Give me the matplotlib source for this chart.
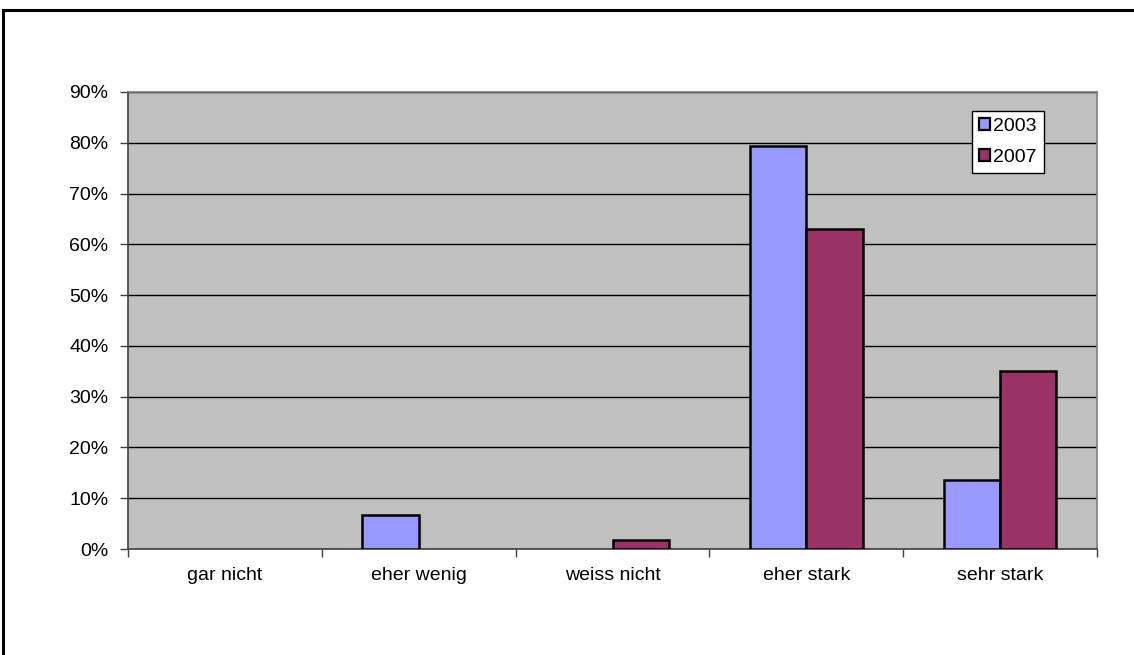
import numpy as np
import matplotlib.pyplot as plt
from matplotlib.patches import Rectangle, Patch
from matplotlib.ticker import FixedLocator, PercentFormatter

plt.rcParams['font.family'] = ['Liberation Sans', 'DejaVu Sans']

categories = ['gar nicht', 'eher wenig', 'weiss nicht', 'eher stark', 'sehr stark']
years = ['2003', '2007']
share_2003 = [0.0, 6.7, 0.0, 79.3, 13.6]
share_2007 = [0.0, 0.0, 1.8, 63.0, 35.0]
colors = ['#9999FF', '#993366']

W, H = 1134, 655
fig = plt.figure(figsize=(W / 100, H / 100), dpi=100)
fig.patch.set_facecolor('white')

# outer chart frame (runs off the right and bottom edge)
fig.patches.append(Rectangle((3 / W, -0.1), 1.2, 1 - 10 / H + 0.1,
                             transform=fig.transFigure, fill=False,
                             edgecolor='black', linewidth=2.2, zorder=0))

ax = fig.add_axes([128 / W, 1 - 549 / H, (1097 - 128) / W, (549 - 92) / H])
ax.set_facecolor('#C0C0C0')

x = np.arange(len(categories))
width = 0.29
for offset, vals, col in [(-width / 2, share_2003, colors[0]),
                          (width / 2, share_2007, colors[1])]:
    bars = ax.bar(x + offset, vals, width, color=col, edgecolor='black',
                  linewidth=1.8, zorder=3)
    # empty categories get no outline
    for b, v in zip(bars, vals):
        if v == 0:
            b.set_visible(False)

ax.set_xlim(-0.5, len(categories) - 0.5)
ax.set_ylim(0, 90)
ax.set_yticks(np.arange(0, 91, 10))
ax.yaxis.set_major_formatter(PercentFormatter(decimals=0))
ax.yaxis.grid(True, color='black', linewidth=1.0, zorder=1)
ax.set_axisbelow(True)

# ticks between categories, labels at the centres
ax.xaxis.set_major_locator(FixedLocator(np.arange(-0.5, len(categories), 1.0)))
ax.xaxis.set_major_formatter(plt.NullFormatter())
ax.xaxis.set_minor_locator(FixedLocator(x))
ax.set_xticklabels(categories, minor=True)
ax.tick_params(axis='x', which='minor', length=0, pad=13, labelsize=14)
ax.tick_params(axis='x', which='major', length=6, width=1, color='#404040', direction='out')
ax.tick_params(axis='y', length=6, width=1, color='#404040', direction='out',
               labelsize=14, pad=8)

for side in ['top', 'right']:
    ax.spines[side].set_color('#808080')
    ax.spines[side].set_linewidth(1.2)
for side in ['left', 'bottom']:
    ax.spines[side].set_color('#404040')
    ax.spines[side].set_linewidth(1.2)

handles = [Patch(facecolor=c, edgecolor='black', linewidth=1.6) for c in colors]
leg = ax.legend(handles, years, loc='upper left', bbox_to_anchor=(972 / W, 1 - 111 / H),
                bbox_transform=fig.transFigure, borderaxespad=0,
                fancybox=False, shadow=False, framealpha=1,
                handlelength=0.55, handleheight=0.55, handletextpad=0.2,
                labelspacing=0.72, borderpad=0.35, fontsize=14)
leg.get_frame().set_edgecolor('black')
leg.get_frame().set_linewidth(1.0)

fig.savefig('out.png', dpi=100)
